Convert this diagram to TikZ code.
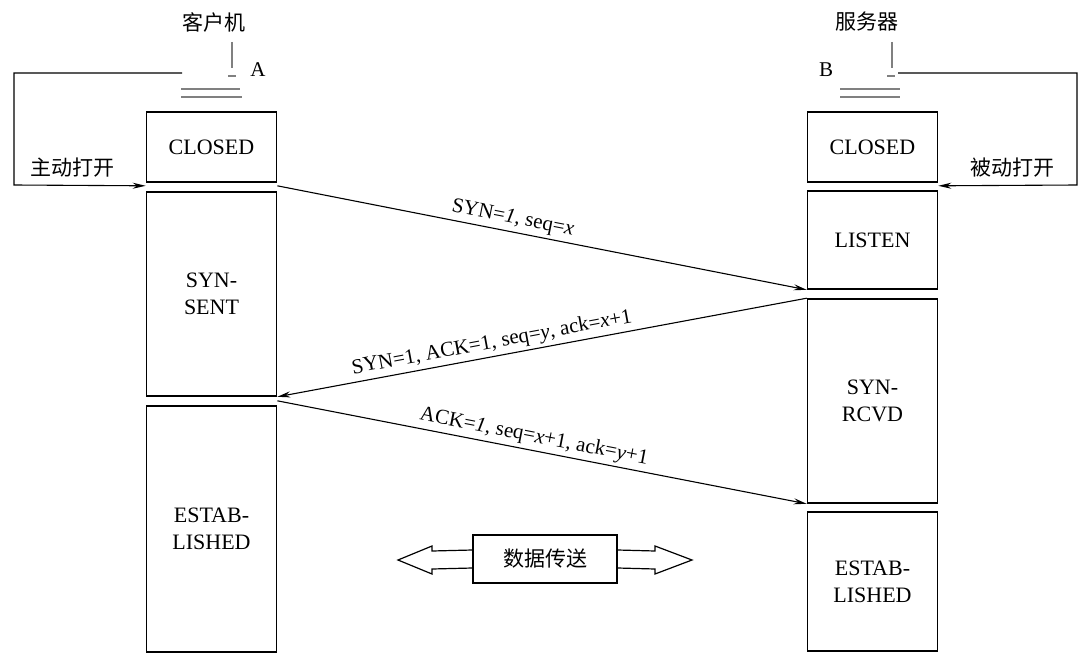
\documentclass[tikz,border=0pt]{standalone}
\usepackage{fontspec}
\setmainfont{Liberation Serif}
\newfontfamily\cjk{Noto Sans CJK SC}
\usetikzlibrary{arrows.meta}

\begin{document}
\begin{tikzpicture}[x=1pt,y=-1pt,
    state/.style={draw,line width=1.6pt,minimum width=130pt,align=center,
      font=\fontsize{22}{27}\selectfont},
    msg/.style={line width=1.1pt,-{Stealth[length=13pt,width=6pt]}},
    lbl/.style={font=\fontsize{21}{25}\selectfont},
    host/.style={gray,line width=1.2pt}]
  \useasboundingbox (0,0) rectangle (1086,666);
  \node[state,minimum height=70pt] (a1) at (211.5,147) {CLOSED};
  \node[state,minimum height=204pt] (a2) at (211.5,294) {SYN-\\SENT};
  \node[state,minimum height=246pt] (a3) at (211.5,529) {ESTAB-\\LISHED};
  \node[state,minimum height=70pt] (b1) at (872.5,147) {CLOSED};
  \node[state,minimum height=98pt] (b2) at (872.5,240) {LISTEN};
  \node[state,minimum height=204pt] (b3) at (872.5,401) {SYN-\\RCVD};
  \node[state,minimum height=139pt] (b4) at (872.5,581.5) {ESTAB-\\LISHED};
  \node[lbl] (ha) at (214,22) {\cjk 客户机};
  \node[lbl] (hb) at (867,22) {\cjk 服务器};
  \node[lbl] (na) at (258,70) {A};
  \node[lbl] (nb) at (826,70) {B};
  \draw[host] (232,42) -- (232,68) (228,76) -- (236,76);
  \draw[host] (181,89) -- (240,89) (181,97) -- (242,97);
  \draw[host] (892,42) -- (892,68) (887,76) -- (895,76);
  \draw[host] (840,89) -- (900,89) (840,97) -- (900,97);
  \coordinate (pa) at (182,73);
  \coordinate (pb) at (898,73);
  \node[lbl] (oa) at (72,168) {\cjk 主动打开};
  \node[lbl] (ob) at (1012,168) {\cjk 被动打开};
  \draw[msg] (pa) -- (14,73) -- (14,185) -- ([yshift=-3pt]a1.south west);
  \draw[msg] (pb) -- (1077,73) -- (1077,185) -- ([yshift=-3pt]b1.south east);
  \draw[msg] ([yshift=-3pt]a1.south east) -- node[lbl,sloped,above,pos=0.44]
    {SYN=\textit{1}, seq=\textit{x}} (b2.south west);
  \draw[msg] (b3.north west) -- node[lbl,sloped,above,pos=0.59]
    {SYN=1, ACK=1, seq=\textit{y}, ack=\textit{x}+1} (a2.south east);
  \draw[msg] ([yshift=-4pt]a2.south east) -- node[lbl,sloped,above,pos=0.48]
    {ACK=\textit{1}, seq=\textit{x}+1, ack=\textit{y}+1} (b3.south west);
  \node[draw,line width=1.4pt,minimum width=144pt,minimum height=48pt,lbl]
    (d) at (545,559) {\cjk 数据传送};
  \draw[line width=1.2pt] ([yshift=9pt]d.west) -- (432,551) -- (432,546) -- (398,560)
    -- (432,574) -- (432,569) -- ([yshift=-9pt]d.west);
  \draw[line width=1.2pt] ([yshift=9pt]d.east) -- (655,551) -- (655,546) -- (692,560)
    -- (655,574) -- (655,569) -- ([yshift=-9pt]d.east);
\end{tikzpicture}
\end{document}
